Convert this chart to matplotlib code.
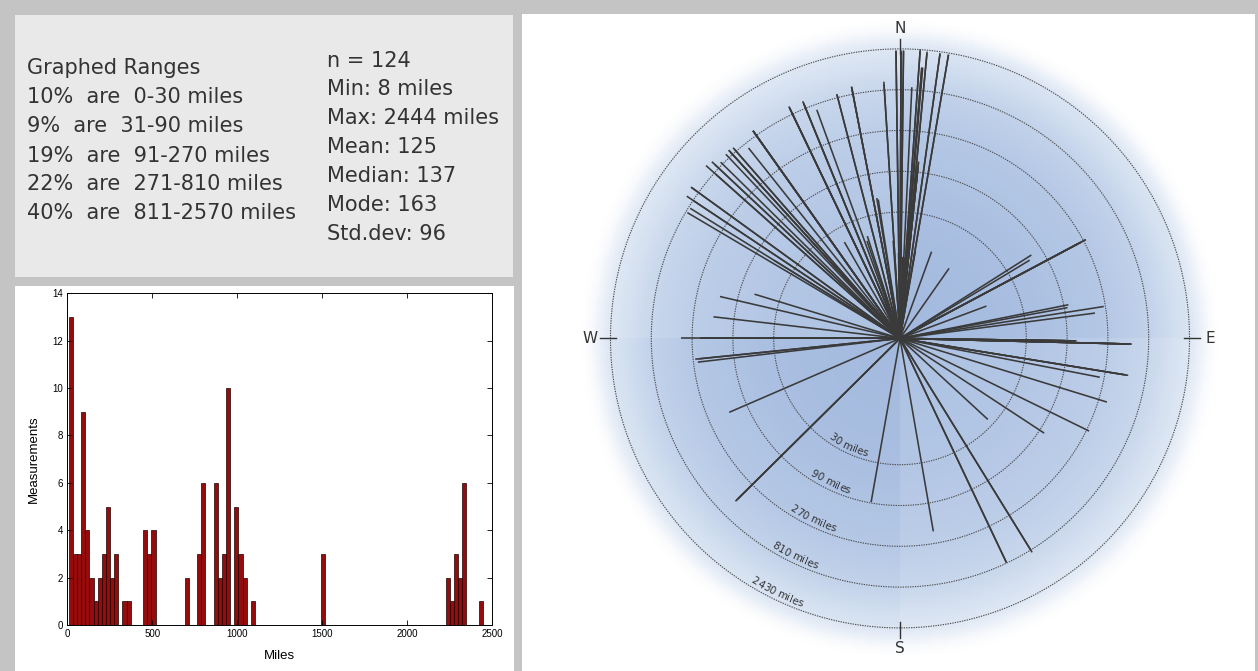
import numpy as np
import matplotlib
matplotlib.use('Agg')
import matplotlib.pyplot as plt
from matplotlib.colors import LinearSegmentedColormap
from matplotlib.patches import Rectangle
from matplotlib.font_manager import FontProperties, findfont
from matplotlib.ft2font import FT2Font

# -------------------------
# data
# -------------------------
range_lines = [
    "Graphed Ranges",
    "10%  are  0-30 miles",
    "9%  are  31-90 miles",
    "19%  are  91-270 miles",
    "22%  are  271-810 miles",
    "40%  are  811-2570 miles",
]
stat_lines = [
    "n = 124",
    "Min: 8 miles",
    "Max: 2444 miles",
    "Mean: 125",
    "Median: 137",
    "Mode: 163",
    "Std.dev: 96",
]

# histogram: 100 bins between min and max distance
hist_min, hist_max = 8, 2444
hist_counts = [
    13, 3, 3, 9, 4, 2, 1, 2, 3, 5, 2, 3, 0, 1, 1, 0, 0, 0, 4, 3,
    4, 0, 0, 0, 0, 0, 0, 0, 2, 0, 0, 3, 6, 0, 0, 6, 2, 3, 10, 0,
    5, 3, 2, 0, 1, 0, 0, 0, 0, 0, 0, 0, 0, 0, 0, 0, 0, 0, 0, 0,
    0, 3, 0, 0, 0, 0, 0, 0, 0, 0, 0, 0, 0, 0, 0, 0, 0, 0, 0, 0,
    0, 0, 0, 0, 0, 0, 0, 0, 0, 0, 0, 2, 1, 3, 2, 6, 0, 0, 0, 1,
]
hist_xticks = [0, 500, 1000, 1500, 2000, 2500]
hist_yticks = [0, 2, 4, 6, 8, 10, 12, 14]

# compass rose: one line per measurement (bearing in degrees, distance in miles)
bearings = [
    # long ones, north
    359.2, 359.2, 0.2, 0.2, 0.2, 0.7, 0.7, 4.0, 4.0, 5.4, 5.4, 8.0, 8.0, 9.7, 9.7,
    4.6, 4.6, 4.8,
    # ~900-1100 miles, mostly north-west
    324.7, 324.7, 324.7, 324.7, 334.4, 334.4, 334.4, 337.7, 337.7, 337.7,
    345.5, 345.5, 349.1, 349.1, 349.1, 356.4, 356.4, 317.7, 317.7, 317.7,
    316.6, 318.8, 318.8, 313.2, 313.2, 311.7, 314.5, 305.9, 305.9, 303.7,
    2.7, 148.3,
    # 271-810 miles
    154.6, 154.6, 148.3, 303.7, 324.7, 334.4,
    300.6, 301.8, 311.7, 321.5, 340.0,
    91.4, 91.4, 91.4, 91.4, 91.4, 99.2, 99.2, 99.2, 225.3, 225.3, 225.3,
    270.0, 107.1, 116.1, 62.0, 62.0,
    # under 271 miles
    264.2, 81.1, 263.3, 62.0, 62.0, 101.0, 264.2, 270.0, 270.0, 62.0,
    170.2, 82.6, 276.6, 283.1, 246.6, 90.8, 90.8, 6.0, 6.0,
    78.7, 79.6, 90.8, 90.8, 190.0, 6.0, 6.0, 123.3, 90.8,
    57.6, 58.9, 286.9, 351.1, 350.6, 301.8,
    69.5, 341.3, 342.3, 132.7, 0.5, 2.0, 359.0, 3.5, 356.0, 20.0, 10.0, 330.0, 35.0,
]
distances = [
    2335, 2286, 2237, 2261, 2335, 2335, 2286, 2444, 2310, 2237, 2335, 2335, 2286, 2310, 2335,
    1495, 1510, 1500,
    945, 945, 920, 945, 994, 945, 1018, 994, 945, 896,
    896, 872, 945, 994, 994, 945, 1018, 945, 872, 945,
    920, 872, 920, 1043, 945, 1092, 872, 1018, 1043, 994,
    872, 872,
    800, 795, 805, 800, 800, 800,
    775, 770, 780, 700, 700,
    455, 462, 490, 500, 515, 450, 480, 505, 468, 486, 510,
    360, 340, 290, 290, 285,
    255, 258, 240, 243, 248, 240, 232, 216, 210, 220,
    195, 199, 157, 145, 150, 116, 112, 115, 120,
    102, 98, 100, 92, 88, 100, 94, 104, 86,
    66, 59, 60, 44, 46, 54,
    12, 16, 18, 25, 8, 9, 10, 9, 14, 12, 11, 20, 10,
]
ring_miles = [30, 90, 270, 810, 2430]
ring_labels = ["30 miles", "90 miles", "270 miles", "810 miles", "2430 miles"]
compass = ["N", "E", "S", "W"]

# -------------------------
# layout (pixels of a 1258x671 picture)
# -------------------------
W, H = 1258, 671
fig = plt.figure(figsize=(W / 100, H / 100), dpi=100)
fig.patch.set_facecolor('#c4c4c4')


def fx(x):
    return x / W


def fy(y):
    return 1 - y / H


def panel(x0, y0, x1, y1, color):
    fig.add_artist(Rectangle((fx(x0), fy(y1)), fx(x1) - fx(x0), fy(y0) - fy(y1),
                             transform=fig.transFigure, facecolor=color,
                             edgecolor='none', zorder=-5))


panel(15, 15, 513, 277, '#e9e9e9')
panel(15, 286, 514, 671, '#ffffff')
panel(522, 14, 1255, 671, '#ffffff')

# -------------------------
# text panel
# -------------------------
txt_color = '#333333'
left_base = [74, 103.3, 132.3, 161.7, 190, 219]
for s, y in zip(range_lines, left_base):
    fig.text(fx(27), fy(y), s, fontsize=15, color=txt_color, va='baseline', ha='left',
             family='DejaVu Sans')
right_base = [66.7, 95, 124, 153.3, 182.3, 211, 240]
for s, y in zip(stat_lines, right_base):
    fig.text(fx(327), fy(y), s, fontsize=15, color=txt_color, va='baseline', ha='left',
             family='DejaVu Sans')

# -------------------------
# histogram
# -------------------------
axh = fig.add_axes([fx(67.3), fy(625), fx(492.3) - fx(67.3), fy(293.3) - fy(625)])
edges = np.linspace(hist_min, hist_max, len(hist_counts) + 1)
axh.bar(edges[:-1], hist_counts, width=np.diff(edges), align='edge',
        color='#960b0b', edgecolor='#1a0000', linewidth=0.5)
axh.set_xlim(0, 2500)
axh.set_ylim(0, 14)
axh.set_xticks(hist_xticks)
axh.set_yticks(hist_yticks)
axh.tick_params(direction='in', top=True, right=True, labelsize=7, length=3.5,
                width=0.6, pad=3)
for lab in axh.get_xticklabels() + axh.get_yticklabels():
    lab.set_family('Liberation Sans')
for sp in axh.spines.values():
    sp.set_linewidth(0.7)
axh.set_xlabel('Miles', fontsize=9.5, family='Liberation Sans', labelpad=8)
axh.set_ylabel('Measurements', fontsize=9.5, family='Liberation Sans', labelpad=9)

# -------------------------
# compass rose (polar, radius = log3 of miles)
# -------------------------
cx, cy = 900, 338.4
rmax = 8.0
px_per_unit = 40.8
rad_px = rmax * px_per_unit
ax = fig.add_axes([fx(cx - rad_px), fy(cy + rad_px), 2 * rad_px / W, 2 * rad_px / H],
                  projection='polar')
ax.set_theta_zero_location('N')
ax.set_theta_direction(-1)
ax.set_ylim(0, rmax)
ax.set_xticks([])
ax.set_yticks([])
ax.grid(False)
ax.spines['polar'].set_visible(False)
ax.set_facecolor('none')


def log3(v):
    return np.log(np.asarray(v, dtype=float)) / np.log(3)


# shaded disc: fades to white towards the rim, NE/SW quarters a bit darker
t_edges = np.radians(np.linspace(0, 360, 361))
r_edges = np.linspace(0, 7.8, 157)
t_mid = np.linspace(0.5, 359.5, 360)
r_mid = 0.5 * (r_edges[:-1] + r_edges[1:])
shade_r = np.interp(r_mid, [0, 3.0, 5.0, 6.1, 7.1, 7.55, 7.8],
                    [1.0, 0.93, 0.82, 0.68, 0.42, 0.1, 0.0])
quarter = np.where((t_mid < 90) | ((t_mid >= 180) & (t_mid < 270)), 1.0, 0.9)
V = shade_r[:, None] * quarter[None, :]
cmap = LinearSegmentedColormap.from_list('disc', ['#ffffff', '#d3dff0', '#a2b9de'])
T, R = np.meshgrid(t_edges, r_edges)
ax.pcolormesh(T, R, V, cmap=cmap, vmin=0, vmax=1, shading='flat',
              antialiased=False, edgecolors='none', zorder=0)

# dotted distance rings
theta_full = np.linspace(0, 2 * np.pi, 721)
for m in ring_miles:
    ax.plot(theta_full, np.full_like(theta_full, log3(m)), color='#4d4d4d',
            lw=0.8, ls=(0, (1.2, 1.0)), zorder=2)

# one line per measurement
for b, d in zip(bearings, distances):
    t = np.radians(b)
    ax.plot([t, t], [0, log3(d)], color='#3a3a3a', lw=1.15, solid_capstyle='butt', zorder=3)

# compass ticks and letters
for i, name in enumerate(compass):
    t = np.radians(90 * i)
    ax.plot([t, t], [6.96, 7.35], color='#333333', lw=1.0, zorder=4)
    ax.text(t, 7.6, name, ha='center', va='center', fontsize=11, color='#333333',
            family='DejaVu Sans')


# ring labels written along the arcs
def arc_text(label, miles, bearing_c, size=7.4):
    font = FT2Font(findfont(FontProperties(family='DejaVu Sans')))
    font.set_size(size, 72)
    advs = []
    for ch in label:
        g = font.load_char(ord(ch))
        advs.append(g.linearHoriAdvance / 65536.0 * 100 / 72)
    r_base = log3(miles) - 3.5 / px_per_unit
    r_px = r_base * px_per_unit
    s = -sum(advs) / 2
    for ch, a in zip(label, advs):
        b = bearing_c - np.degrees((s + a / 2) / r_px)
        ax.text(np.radians(b), r_base, ch, rotation=180 - b, rotation_mode='anchor',
                ha='center', va='baseline', fontsize=size, color='#333333',
                family='DejaVu Sans', zorder=5)
        s += a


for lab, m in zip(ring_labels, ring_miles):
    arc_text(lab, m, 205.8)

fig.savefig('out.png', dpi=100, facecolor=fig.get_facecolor())
